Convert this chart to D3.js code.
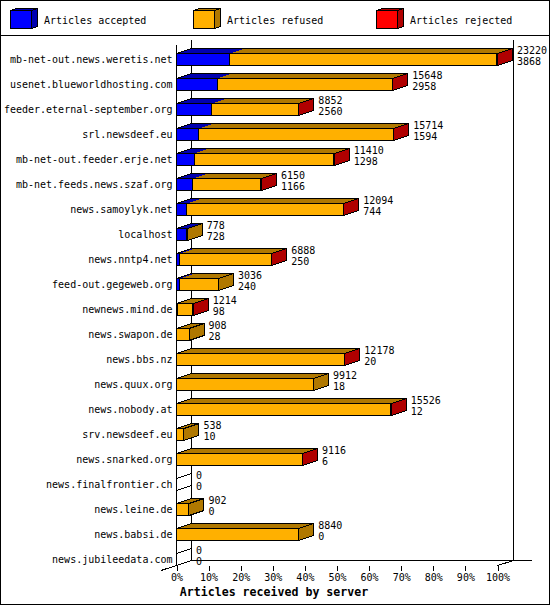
<!DOCTYPE html>
<html><head><meta charset="utf-8">
<script src="https://cdn.jsdelivr.net/npm/d3@7"></script>
<style>
html,body{margin:0;padding:0;background:#fff}
svg{display:block;shape-rendering:crispEdges}
text{font-family:"DejaVu Sans Mono",monospace;font-size:10px;fill:#000}
.t{font-size:11.6px;font-weight:bold}
</style></head><body><div id="c"></div>
<script>
const servers=["mb-net-out.news.weretis.net","usenet.blueworldhosting.com","feeder.eternal-september.org","srl.newsdeef.eu","mb-net-out.feeder.erje.net","mb-net.feeds.news.szaf.org","news.samoylyk.net","localhost","news.nntp4.net","feed-out.gegeweb.org","newnews.mind.de","news.swapon.de","news.bbs.nz","news.quux.org","news.nobody.at","srv.newsdeef.eu","news.snarked.org","news.finalfrontier.ch","news.leine.de","news.babsi.de","news.jubileedata.com"];
const totals=[23220,15648,8852,15714,11410,6150,12094,778,6888,3036,1214,908,12178,9912,15526,538,9116,0,902,8840,0];
const accepted=[3868,2958,2560,1594,1298,1166,744,728,250,240,98,28,20,18,12,10,6,0,0,0,0];
const rejected=[70,50,40,50,40,40,40,0,40,0,30,0,20,0,30,0,20,0,0,0,0];
const seriesNames=["Articles accepted","Articles refused","Articles rejected"];
const frontColors=["#0000ff","#ffb000","#ff0000"];
const darkColors=["#0000b0","#b07800","#b00000"];
const pctTicks=[0,10,20,30,40,50,60,70,80,90,100];
const title="Articles received by server";

const W=550,H=605,dx=15,dy=5;
const svg=d3.select("#c").append("svg").attr("width",W).attr("height",H);
const line=(a,b,c,d,g=svg)=>g.append("line").attr("x1",a).attr("y1",b).attr("x2",c).attr("y2",d).attr("stroke","#000");

svg.append("rect").attr("x",.5).attr("y",.5).attr("width",W-1).attr("height",H-1).attr("fill","#fff").attr("stroke","#000");
line(0,35.5,W,35.5);

// legend
const lx=d3.scalePoint().domain(seriesNames).range([10.5,376.5]);
const poly=(g,p,f)=>g.append("polygon").attr("points",p.map(q=>q.join(",")).join(" ")).attr("fill",f).attr("stroke","#000");
seriesNames.forEach((s,i)=>{
  const x=lx(s),y=10.5,w=21,h=18,ldx=6,ldy=2;
  poly(svg,[[x,y],[x+ldx,y-ldy],[x+w+ldx,y-ldy],[x+w,y]],darkColors[i]);
  poly(svg,[[x+w,y],[x+w+ldx,y-ldy],[x+w+ldx,y+h-ldy],[x+w,y+h]],darkColors[i]);
  poly(svg,[[x,y],[x+w,y],[x+w,y+h],[x,y+h]],frontColors[i]);
  svg.append("text").attr("x",x+33.5).attr("y",24).text(s);
});

// scales
const x=d3.scaleLinear().domain([0,d3.max(totals)]).range([176.5,497.5]);
const pct=d3.scaleLinear().domain([0,100]).range([176.5,497.5]);
const y=d3.scaleBand().domain(servers).range([53.5,565.5]).paddingInner(13/25).paddingOuter(0).align(0);

// walls
const wall=svg.append("g");
line(x(0),45,x(0),565.5,wall);
line(x(0)+dx,40,x(0)+dx,560.5,wall);
line(513.5,40,513.5,560.5,wall);
line(x(0)+dx,560.5,532,560.5,wall);
line(161,570.5,x(0)+dx,560.5,wall);
line(497.5,565.5,513.5,560.5,wall);

// x axis
const ax=svg.append("g").attr("transform","translate(0,565.5)").call(d3.axisBottom(pct).tickValues(pctTicks).tickSize(5).tickPadding(3).tickFormat(d=>d+"%"));
ax.select(".domain").remove();
ax.selectAll("text").style("font-family",'"DejaVu Sans Mono",monospace').style("font-size","10px").attr("fill","#000");
ax.selectAll("line").attr("stroke","#000");
svg.append("text").attr("class","t").attr("x",274).attr("y",596).attr("text-anchor","middle").text(title);

// bars
servers.forEach((s,i)=>{
  const g=svg.append("g"),y0=y(s),y1=y0+y.bandwidth();
  const refused=totals[i]-accepted[i]-rejected[i];
  const vals=[accepted[i],refused,rejected[i]];
  let c=0;
  const segs=vals.map((v,k)=>{const a=c;c+=v;return {k,v,a,b:c};});
  const visible=segs.filter(d=>d.v>0);
  const end=x(totals[i]);
  const last=visible.length?visible[visible.length-1].k:1;
  if(visible.length){
    visible.forEach(d=>{
      g.append("polygon").attr("points",[[x(d.a),y0],[x(d.a)+dx,y0-dy],[x(d.b)+dx,y0-dy],[x(d.b),y0]].map(q=>q.join(",")).join(" ")).attr("fill",darkColors[d.k]);
    });
    poly(g,[[x(0),y0],[x(0)+dx,y0-dy],[end+dx,y0-dy],[end,y0]],"none");
    poly(g,[[end,y0],[end+dx,y0-dy],[end+dx,y1-dy],[end,y1]],darkColors[last]);
    visible.forEach(d=>{
      g.append("rect").attr("x",x(d.a)).attr("y",y0).attr("width",x(d.b)-x(d.a)).attr("height",y1-y0).attr("fill",frontColors[d.k]).attr("stroke","#000");
    });
  } else {
    line(x(0),y0,x(0)+dx,y0-dy,g);
    line(x(0),y1,x(0)+dx,y1-dy,g);
  }
  g.append("text").attr("x",172.5).attr("y",y0+9.5).attr("text-anchor","end").text(s);
  g.append("text").attr("x",end+19.5).attr("y",y0+0.5).text(totals[i]);
  g.append("text").attr("x",end+19.5).attr("y",y0+11.5).text(accepted[i]);
});
</script></body></html>
